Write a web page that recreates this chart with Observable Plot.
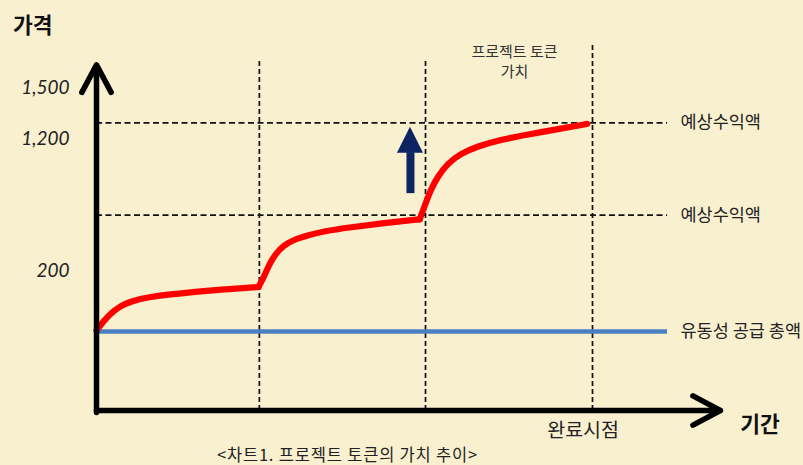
<!DOCTYPE html>
<html>
<head>
<meta charset="utf-8">
<script src="https://cdn.jsdelivr.net/npm/d3@7"></script>
<script src="https://cdn.jsdelivr.net/npm/@observablehq/plot@0.6"></script>
<style>
  html, body { margin: 0; padding: 0; }
  body { width: 803px; height: 465px; overflow: hidden; background: #f9f0d0; font-family: "Noto Sans CJK KR", "Noto Sans", sans-serif; }
  #title { height: 38px; box-sizing: border-box; padding: 10px 0 0 13px; font-size: 21.5px; line-height: 28px; font-weight: 700; color: #111; }
  #chart svg { display: block; }
  #caption { height: 27px; box-sizing: border-box; padding: 6px 0 0 217px; font-size: 16.5px; letter-spacing: 0.8px; line-height: 20px; color: #222; white-space: nowrap; }
</style>
</head>
<body>
<div id="title">가격</div>
<div id="chart"></div>
<div id="caption">&lt;차트1. 프로젝트 토큰의 가치 추이&gt;</div>
<script>
// ---- data (x: period units, y: relative value units 0–100) ----
const xAxisLabel = "기간";
const completionLabel = "완료시점";
const tokenValueLabel = "프로젝트 토큰\n가치";
const revenueLabel = "예상수익액";
const supplyLabel = "유동성 공급 총액";

const tickLabels = ["1,500", "1,200", "200"];
const tickValues = [93.1, 78.4, 40.3];

const periodBoundaries = [0.985, 1.99, 3.0];   // vertical dashed guides
const periodGuideTops = [101.2, 101.2, 106.0];
const revenueLevels = [56.3, 82.9];             // horizontal dashed guides (예상수익액)
const supplyLevel = 22.8;                       // 유동성 공급 총액
const guideEnd = 3.454;

// token value curve, three phases
const phase1 = [[0,23.0],[0.044,25.9],[0.105,28.8],[0.165,30.7],[0.266,32.2],[0.367,33.1],[0.569,34.1],[0.770,34.9],[0.980,35.6]];
const phase2 = [[0.980,35.6],[1.012,38.4],[1.042,41.8],[1.083,45.2],[1.133,47.6],[1.193,49.2],[1.274,50.4],[1.375,51.7],[1.536,52.8],[1.737,54.0],[1.955,55.1]];
const phase3 = [[1.955,55.1],[1.990,59.6],[2.020,63.4],[2.061,67.2],[2.121,71.1],[2.202,74.0],[2.303,76.1],[2.444,78.0],[2.605,79.5],[2.806,81.2],[2.968,82.6]];

// up arrow (increase) position
const upArrowX = 1.899;
const upArrowHalfWidth = 0.079;
const upArrowShaft = [62.5, 74.3];
const upArrowHead = [74.1, 81.6];

// axes extents
const xAxisEnd = 3.774;
const yAxisEnd = 99.6;

// ---- build ----
const curve = [
  ...phase1.map(([x, y]) => ({x, y, phase: 1})),
  ...phase2.map(([x, y]) => ({x, y, phase: 2})),
  ...phase3.map(([x, y]) => ({x, y, phase: 3}))
];
const head = [
  {x: upArrowX - upArrowHalfWidth, y1: upArrowHead[0], y2: upArrowHead[0]},
  {x: upArrowX, y1: upArrowHead[0], y2: upArrowHead[1]},
  {x: upArrowX + upArrowHalfWidth, y1: upArrowHead[0], y2: upArrowHead[0]}
];
const ticks = tickLabels.map((label, i) => ({label, y: tickValues[i]}));
const font = "'Noto Sans CJK KR', 'Noto Sans', sans-serif";

const chart = Plot.plot({
  width: 803,
  height: 400,
  margin: 0,
  x: {domain: [0, 3], range: [96, 592], axis: null},
  y: {domain: [0, 100], range: [372, 25], axis: null},
  style: {background: "transparent", fontFamily: font, overflow: "visible"},
  marks: [
    Plot.ruleX(periodBoundaries, {x: d => d, y1: 0, y2: (d, i) => periodGuideTops[i], stroke: "#111", strokeWidth: 1.7, strokeDasharray: "5,3"}),
    Plot.ruleY(revenueLevels, {y: d => d, x1: 0, x2: guideEnd, stroke: "#111", strokeWidth: 1.7, strokeDasharray: "6,3.5"}),
    Plot.ruleY([supplyLevel], {y: d => d, x1: 0, x2: guideEnd, stroke: "#4a7fc1", strokeWidth: 4.5}),
    Plot.line(curve, {x: "x", y: "y", z: "phase", curve: "basis", stroke: "#ff0000", strokeWidth: 6.2, strokeLinejoin: "round", strokeLinecap: "round"}),
    Plot.ruleX([upArrowX], {x: d => d, y1: upArrowShaft[0], y2: upArrowShaft[1], stroke: "#0c2461", strokeWidth: 8}),
    Plot.areaY(head, {x: "x", y1: "y1", y2: "y2", fill: "#0c2461", curve: "linear"}),
    Plot.arrow([{x1: 0, y1: -0.6, x2: 0, y2: yAxisEnd}], {x1: "x1", y1: "y1", x2: "x2", y2: "y2", stroke: "#000", strokeWidth: 5.5, headAngle: 56, headLength: 8.5, strokeLinejoin: "round", strokeLinecap: "round"}),
    Plot.arrow([{x1: 0, y1: 0, x2: xAxisEnd, y2: 0}], {x1: "x1", y1: "y1", x2: "x2", y2: "y2", stroke: "#000", strokeWidth: 5.5, headAngle: 56, headLength: 8.5, strokeLinejoin: "round", strokeLinecap: "round"}),
    Plot.text(ticks, {x: -0.163, y: "y", text: "label", textAnchor: "end", fontSize: 19, fontStyle: "italic", fontFamily: "Lato, 'Noto Sans', sans-serif", fill: "#222"}),
    Plot.text(revenueLevels, {x: 3.532, y: d => d, text: () => revenueLabel, textAnchor: "start", fontSize: 17.5, fill: "#222"}),
    Plot.text([supplyLevel], {x: 3.532, y: d => d, text: () => supplyLabel, textAnchor: "start", fontSize: 17.5, fill: "#222"}),
    Plot.text([periodBoundaries[2]], {x: d => d - 0.057, y: -5.8, text: () => completionLabel, fontSize: 19.5, fill: "#222"}),
    Plot.text([xAxisEnd], {x: d => d + 0.12, y: -4.3, text: () => xAxisLabel, textAnchor: "start", fontSize: 21.5, fontWeight: "bold", fill: "#111"}),
    Plot.text([tokenValueLabel], {x: 2.528, y: 100.9, text: d => d, fontSize: 15, lineHeight: 1.35, fill: "#333"})
  ]
});
document.getElementById("chart").append(chart);
</script>
</body>
</html>
